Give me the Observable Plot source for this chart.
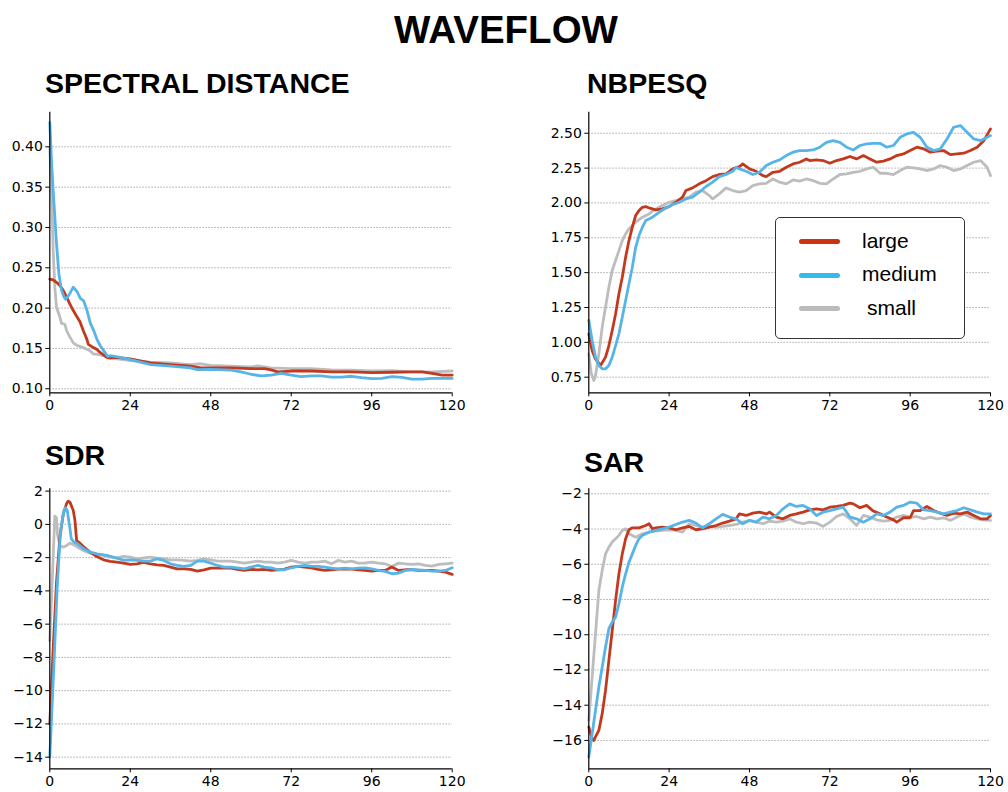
<!DOCTYPE html>
<html>
<head>
<meta charset="utf-8">
<script src="https://cdn.jsdelivr.net/npm/d3@7"></script>
<script src="https://cdn.jsdelivr.net/npm/@observablehq/plot@0.6"></script>
<style>
  html, body { margin: 0; padding: 0; background: #fff; }
  #root { position: relative; width: 1008px; height: 792px; overflow: hidden; background: #fff; }
  .ttl { position: absolute; font-family: "Liberation Sans", Arial, Helvetica, sans-serif; font-weight: bold; line-height: 1; white-space: nowrap; color: #000; }
  .panel { position: absolute; }
  .panel svg { overflow: visible; }
  #legend { position: absolute; left: 775px; top: 217px; width: 188px; height: 120px; border: 1px solid #333; border-radius: 5px; background: #fff; font-family: "Liberation Sans", Arial, Helvetica, sans-serif; font-size: 21px; }
  .sw { position: absolute; left: 23px; width: 41px; height: 5px; border-radius: 3px; }
  .lb { position: absolute; left: 86px; line-height: 1; white-space: pre; }
</style>
</head>
<body>
<div id="root"></div>
<script>
// ---------------- data ----------------
const seriesNames = ["large", "medium", "small"];
const epochTicks = [0, 24, 48, 72, 96, 120];

// SPECTRAL DISTANCE  [epoch, value]
const sdLarge = [[0,0.236],[1,0.235],[2,0.232],[3,0.228],[4,0.222],[5,0.214],[6,0.205],[7,0.197],[8,0.190],[9,0.183],[10,0.172],[11,0.162],[11.5,0.155],[13,0.151],[14,0.149],[15,0.145],[17,0.139],[18,0.138],[20,0.139],[24,0.137],[30,0.132],[36,0.130],[42,0.128],[45,0.126],[48,0.126],[54,0.126],[60,0.125],[64,0.125],[66,0.1235],[68,0.121],[72,0.122],[78,0.122],[84,0.121],[90,0.121],[96,0.120],[102,0.1205],[108,0.121],[111,0.121],[114,0.119],[117,0.117],[120,0.117]];
const sdMedium = [[0,0.430],[0.6,0.375],[1.2,0.333],[2,0.280],[2.7,0.243],[3.5,0.222],[4.2,0.214],[4.7,0.211],[5.7,0.216],[7,0.226],[8.2,0.220],[9.1,0.212],[10.1,0.209],[11.1,0.197],[12.1,0.181],[13.1,0.172],[14.1,0.161],[15.1,0.153],[16.1,0.147],[17.3,0.140],[18.1,0.141],[21,0.139],[24,0.136],[30,0.130],[36,0.128],[42,0.126],[44,0.1237],[48,0.124],[54,0.123],[57,0.121],[60,0.118],[63,0.116],[66,0.117],[69,0.119],[72,0.117],[75,0.115],[78,0.116],[81,0.116],[84,0.1145],[87,0.1145],[90,0.1155],[93,0.1138],[96,0.1125],[99,0.113],[102,0.115],[105,0.114],[108,0.112],[111,0.112],[114,0.1128],[117,0.113],[120,0.113]];
const sdSmall = [[0,0.400],[0.7,0.320],[1,0.272],[1.5,0.226],[2,0.201],[3,0.189],[3.5,0.181],[4.5,0.180],[5,0.172],[6,0.164],[7,0.157],[8,0.154],[10,0.151],[11,0.149],[12,0.147],[13,0.143],[14,0.143],[16,0.141],[18,0.139],[20,0.137],[22,0.136],[24,0.135],[30,0.133],[36,0.132],[42,0.130],[45,0.131],[48,0.129],[54,0.128],[60,0.127],[62,0.1285],[66,0.126],[72,0.125],[78,0.125],[84,0.1235],[90,0.123],[96,0.122],[102,0.1225],[108,0.121],[114,0.121],[120,0.122]];

// NBPESQ
const pqLarge = [[0,1.061],[1,0.94],[2,0.88],[3.5,0.834],[5,0.894],[6,0.977],[7,1.085],[8,1.204],[9,1.348],[10,1.467],[11,1.611],[12,1.73],[13,1.826],[14,1.91],[15,1.945],[16,1.969],[17,1.974],[18,1.964],[20,1.95],[22,1.957],[24,1.974],[26,2.005],[28,2.041],[29,2.089],[31,2.108],[33,2.137],[35,2.16],[37,2.189],[39,2.204],[41,2.208],[43,2.244],[45,2.261],[46,2.28],[48,2.244],[50,2.227],[52,2.196],[53,2.189],[55,2.22],[57,2.227],[59,2.256],[61,2.28],[63,2.292],[65,2.316],[66,2.304],[68,2.309],[70,2.304],[72,2.285],[74,2.304],[76,2.316],[78,2.333],[80,2.316],[82,2.34],[84,2.316],[86,2.292],[88,2.30],[90,2.316],[92,2.34],[94,2.352],[96,2.376],[98,2.40],[100,2.388],[102,2.364],[104,2.371],[106,2.376],[108,2.347],[110,2.352],[112,2.357],[114,2.376],[116,2.40],[118,2.447],[120,2.531]];
const pqMedium = [[0,1.157],[1,1.013],[2,0.894],[3,0.834],[4,0.81],[5,0.81],[6,0.834],[7,0.894],[8,0.977],[9,1.061],[10,1.18],[11,1.30],[12,1.42],[13,1.539],[14,1.682],[15,1.766],[16,1.826],[17,1.874],[19,1.898],[21,1.933],[23,1.964],[25,1.988],[27,2.005],[29,2.029],[31,2.041],[33,2.077],[35,2.118],[37,2.149],[39,2.189],[41,2.204],[43,2.227],[44,2.256],[45,2.244],[47,2.227],[49,2.204],[51,2.22],[53,2.268],[55,2.292],[57,2.309],[59,2.34],[61,2.364],[63,2.376],[65,2.376],[67,2.38],[69,2.40],[71,2.435],[73,2.447],[75,2.435],[77,2.40],[79,2.38],[81,2.412],[83,2.424],[85,2.428],[87,2.428],[89,2.40],[91,2.412],[93,2.471],[95,2.495],[97,2.507],[99,2.471],[101,2.40],[103,2.376],[105,2.388],[107,2.459],[109,2.543],[111,2.555],[113,2.507],[115,2.459],[117,2.447],[119,2.471],[120,2.483]];
const pqSmall = [[0,0.917],[0.7,0.78],[1.5,0.726],[2,0.76],[3,0.917],[4,1.109],[5,1.252],[6,1.396],[7,1.515],[8,1.587],[9,1.658],[10,1.73],[11,1.778],[12,1.814],[13,1.838],[14,1.862],[16,1.898],[18,1.921],[20,1.957],[22,1.981],[24,2.005],[26,2.017],[28,2.029],[30,2.041],[32,2.077],[34,2.089],[36,2.053],[37,2.029],[39,2.065],[41,2.108],[43,2.089],[45,2.077],[47,2.089],[49,2.125],[51,2.137],[53,2.141],[55,2.172],[57,2.149],[59,2.137],[61,2.165],[63,2.156],[65,2.172],[67,2.16],[69,2.141],[71,2.137],[73,2.172],[75,2.204],[77,2.208],[79,2.22],[81,2.227],[83,2.244],[85,2.256],[87,2.213],[89,2.213],[91,2.204],[93,2.232],[95,2.256],[97,2.251],[99,2.244],[101,2.232],[103,2.244],[105,2.268],[107,2.256],[109,2.232],[111,2.244],[113,2.268],[115,2.292],[117,2.304],[119,2.256],[120,2.196]];

// SDR
const sdrLarge = [[0,-12.0],[1,-7.5],[2,-3.5],[3,-0.8],[4,0.6],[5,1.25],[5.5,1.4],[6,1.34],[7,0.84],[7.5,0.24],[8,-0.97],[9,-1.13],[10,-1.33],[12,-1.67],[14,-1.93],[16,-2.13],[18,-2.23],[20,-2.27],[22,-2.33],[24,-2.41],[26,-2.37],[28,-2.29],[30,-2.37],[32,-2.43],[34,-2.47],[36,-2.57],[38,-2.67],[40,-2.67],[42,-2.71],[44,-2.81],[46,-2.73],[48,-2.63],[50,-2.63],[52,-2.61],[54,-2.63],[56,-2.71],[58,-2.77],[60,-2.71],[62,-2.73],[64,-2.71],[66,-2.77],[68,-2.73],[70,-2.69],[72,-2.57],[74,-2.53],[76,-2.57],[78,-2.61],[80,-2.71],[82,-2.77],[84,-2.73],[86,-2.69],[88,-2.67],[90,-2.69],[92,-2.73],[94,-2.77],[96,-2.81],[98,-2.77],[100,-2.77],[102,-2.57],[104,-2.77],[106,-2.73],[108,-2.73],[110,-2.77],[112,-2.77],[114,-2.77],[116,-2.81],[118,-2.87],[120,-3.01]];
const sdrMedium = [[0,-14.0],[1.2,-8.6],[2.2,-3.8],[3.2,-0.36],[4.2,0.84],[4.7,1.0],[5.2,0.84],[6,-0.24],[6.4,-0.86],[7.2,-1.06],[8.2,-1.16],[10.1,-1.47],[12.1,-1.67],[14.1,-1.77],[17,-1.87],[20,-2.03],[22,-2.15],[24,-2.13],[26,-2.17],[28,-2.21],[30,-2.21],[32,-2.07],[34,-2.17],[36,-2.37],[38,-2.47],[40,-2.53],[42,-2.47],[44,-2.21],[46,-2.21],[48,-2.33],[50,-2.47],[52,-2.57],[54,-2.57],[56,-2.61],[58,-2.67],[60,-2.57],[62,-2.47],[64,-2.57],[66,-2.61],[68,-2.73],[70,-2.73],[72,-2.61],[74,-2.53],[76,-2.47],[78,-2.51],[80,-2.53],[82,-2.57],[84,-2.63],[86,-2.67],[88,-2.63],[90,-2.67],[92,-2.63],[94,-2.61],[96,-2.67],[98,-2.77],[100,-2.83],[102,-2.97],[104,-2.93],[106,-2.77],[108,-2.71],[110,-2.73],[112,-2.77],[114,-2.81],[116,-2.81],[118,-2.77],[120,-2.61]];
const sdrSmall = [[0,-7.0],[0.8,-3.0],[1.5,0.5],[2,0.4],[2.3,-0.6],[3,-1.27],[4,-1.37],[5,-1.27],[6,-1.13],[7,-1.21],[8,-1.33],[10,-1.57],[12,-1.73],[14,-1.81],[16,-1.87],[18,-1.97],[20,-2.01],[22,-1.93],[24,-1.97],[26,-2.07],[28,-2.01],[30,-1.97],[32,-2.03],[34,-2.07],[36,-2.13],[38,-2.13],[40,-2.17],[42,-2.21],[44,-2.17],[46,-2.07],[48,-2.13],[50,-2.21],[52,-2.21],[54,-2.21],[56,-2.27],[58,-2.33],[60,-2.27],[62,-2.21],[64,-2.27],[66,-2.27],[68,-2.33],[70,-2.27],[72,-2.17],[74,-2.27],[76,-2.33],[78,-2.27],[80,-2.27],[82,-2.21],[84,-2.37],[86,-2.17],[88,-2.27],[90,-2.21],[92,-2.33],[94,-2.33],[96,-2.27],[98,-2.33],[100,-2.37],[102,-2.53],[104,-2.33],[106,-2.37],[108,-2.41],[110,-2.37],[112,-2.47],[114,-2.51],[116,-2.41],[118,-2.37],[120,-2.33]];

// SAR
const sarLarge = [[0,-15.24],[1,-15.9],[1.5,-16.0],[2,-15.8],[3,-15.43],[4,-14.49],[5,-13.16],[6,-11.46],[7,-9.76],[8,-8.05],[9,-6.54],[10,-5.41],[11,-4.55],[12,-4.04],[13,-3.93],[15,-3.93],[17,-3.80],[18,-3.70],[19,-3.99],[20,-3.93],[22,-3.89],[24,-3.93],[26,-4.04],[28,-3.93],[30,-3.85],[32,-4.04],[34,-3.99],[36,-3.89],[38,-3.80],[40,-3.66],[42,-3.55],[44,-3.42],[45,-3.14],[47,-3.23],[49,-3.10],[51,-3.04],[53,-3.14],[54,-3.04],[56,-3.32],[58,-3.42],[60,-3.23],[62,-3.14],[64,-3.04],[66,-2.91],[68,-2.85],[70,-2.91],[72,-2.76],[74,-2.72],[76,-2.66],[78,-2.53],[79,-2.57],[81,-2.79],[83,-2.66],[85,-2.98],[87,-3.14],[89,-3.32],[91,-3.48],[92,-3.61],[94,-3.36],[96,-3.36],[97,-2.95],[99,-2.95],[101,-2.72],[103,-2.95],[105,-3.10],[107,-3.23],[109,-3.10],[111,-3.14],[113,-3.04],[115,-3.23],[117,-3.42],[119,-3.42],[120,-3.23]];
const sarMedium = [[0,-16.94],[1,-15.62],[2,-14.30],[3,-12.97],[4,-11.84],[5,-10.70],[6,-9.66],[7,-9.28],[8,-9.00],[9,-8.24],[10,-7.30],[11,-6.54],[12,-5.88],[13,-5.41],[14,-4.93],[15,-4.55],[16,-4.36],[17,-4.27],[18,-4.18],[20,-4.08],[22,-3.99],[24,-3.89],[26,-3.74],[28,-3.61],[30,-3.51],[32,-3.66],[34,-3.93],[36,-3.70],[38,-3.42],[40,-3.17],[42,-3.32],[44,-3.42],[46,-3.70],[48,-3.51],[50,-3.61],[52,-3.32],[54,-3.42],[56,-3.23],[58,-2.85],[60,-2.57],[62,-2.72],[64,-2.66],[66,-2.85],[68,-3.23],[70,-3.04],[72,-2.95],[74,-2.85],[76,-2.76],[78,-3.32],[80,-3.42],[82,-3.61],[84,-3.42],[86,-3.14],[88,-3.23],[90,-3.04],[92,-2.76],[94,-2.66],[96,-2.47],[98,-2.53],[100,-2.91],[102,-2.95],[104,-3.04],[106,-3.14],[108,-3.04],[110,-2.95],[112,-2.79],[114,-2.91],[116,-3.04],[118,-3.14],[120,-3.14]];
const sarSmall = [[0,-14.86],[1,-12.40],[2,-9.95],[3,-7.49],[4,-6.35],[5,-5.41],[6,-5.03],[7,-4.74],[8,-4.55],[9,-4.36],[10,-4.08],[11,-3.99],[12,-4.27],[14,-4.46],[16,-4.27],[18,-4.18],[20,-4.12],[22,-4.08],[24,-4.04],[26,-4.08],[28,-4.18],[30,-3.70],[32,-3.80],[34,-3.89],[36,-3.85],[38,-3.89],[40,-3.85],[42,-3.80],[44,-3.74],[46,-3.61],[48,-3.51],[50,-3.61],[52,-3.70],[54,-3.55],[56,-3.61],[58,-3.55],[60,-3.42],[62,-3.61],[64,-3.70],[66,-3.61],[68,-3.66],[70,-3.85],[72,-3.61],[74,-3.29],[76,-3.14],[78,-3.42],[80,-3.80],[82,-3.23],[84,-3.32],[86,-3.48],[88,-3.55],[90,-3.51],[92,-3.32],[94,-3.23],[96,-3.32],[98,-3.29],[100,-3.42],[102,-3.32],[104,-3.42],[106,-3.36],[108,-3.51],[110,-3.32],[112,-3.14],[114,-3.32],[116,-3.42],[118,-3.48],[120,-3.51]];

const sdTicks = [0.10, 0.15, 0.20, 0.25, 0.30, 0.35, 0.40];
const pqTicks = [0.75, 1.00, 1.25, 1.50, 1.75, 2.00, 2.25, 2.50];
const sdrTicks = [-14, -12, -10, -8, -6, -4, -2, 0, 2];
const sarTicks = [-16, -14, -12, -10, -8, -6, -4, -2];

const titles = ["WAVEFLOW", "SPECTRAL DISTANCE", "NBPESQ", "SDR", "SAR"];

// ---------------- styling ----------------
const lineColors = {large: "#c3391d", medium: "#56b4e9", small: "#bdbdbd"};
const legendColors = {large: "#cc3311", medium: "#33bbee", small: "#bbbbbb"};

const root = document.getElementById("root");

function addTitle(text, left, top, size, center) {
  const d = document.createElement("div");
  d.className = "ttl";
  d.textContent = text;
  d.style.fontSize = size + "px";
  d.style.top = top + "px";
  if (center) { d.style.left = "0px"; d.style.width = (2 * left) + "px"; d.style.textAlign = "center"; }
  else d.style.left = left + "px";
  root.appendChild(d);
}

function panel(cfg) {
  const {left, top, width, height, mL, mR, mT, mB, yDomain, yTicks, fmt, large, medium, small} = cfg;
  const lineOpts = (name) => ({x: d => d[0], y: d => d[1], stroke: lineColors[name], strokeWidth: 2.8, strokeLinejoin: "round", strokeLinecap: "round"});
  const axisText = {fontSize: 14, fontFamily: "DejaVu Sans"};
  const svg = Plot.plot({
    width, height,
    marginLeft: mL, marginRight: mR, marginTop: mT, marginBottom: mB,
    style: {fontFamily: "'DejaVu Sans', sans-serif", fontSize: "14px", color: "#000", background: "transparent", overflow: "visible"},
    x: {domain: [0, 120]},
    y: {domain: yDomain},
    marks: [
      Plot.gridY(yTicks, {stroke: "#9a9a9a", strokeOpacity: 1, strokeWidth: 0.8, strokeDasharray: "1.6,1.4"}),
      Plot.line(small, lineOpts("small")),
      Plot.line(large, lineOpts("large")),
      Plot.line(medium, lineOpts("medium")),
      Plot.ruleX([0], {stroke: "#000", strokeWidth: 1.2}),
      Plot.ruleY([yDomain[0]], {stroke: "#000", strokeWidth: 1.2}),
      Plot.axisY({ticks: yTicks, tickFormat: d3.format(fmt), tickSize: 4, tickPadding: 3, label: null, stroke: "#000", fill: "#000", ...axisText}),
      Plot.axisX({ticks: epochTicks, tickFormat: d3.format("d"), tickSize: 4, tickPadding: 3, label: null, stroke: "#000", fill: "#000", ...axisText})
    ]
  });
  const wrap = document.createElement("div");
  wrap.className = "panel";
  wrap.style.left = left + "px";
  wrap.style.top = top + "px";
  wrap.appendChild(svg);
  root.appendChild(wrap);
}

// titles
addTitle(titles[0], 506, 11, 38.5, true);
addTitle(titles[1], 45, 69, 28.5, false);
addTitle(titles[2], 587, 69, 28.5, false);
addTitle(titles[3], 45, 441, 28.5, false);
addTitle(titles[4], 584, 448, 28.5, false);

// panels
panel({left: 0, top: 100, width: 470, height: 325, mL: 49.3, mR: 18.3, mT: 11.7, mB: 32.7,
  yDomain: [0.0950, 0.4429], yTicks: sdTicks, fmt: ".2f", large: sdLarge, medium: sdMedium, small: sdSmall});
panel({left: 530, top: 100, width: 478, height: 325, mL: 58.3, mR: 18, mT: 11.7, mB: 32.7,
  yDomain: [0.638, 2.651], yTicks: pqTicks, fmt: ".2f", large: pqLarge, medium: pqMedium, small: pqSmall});
panel({left: 0, top: 470, width: 470, height: 322, mL: 49.3, mR: 18.3, mT: 18.3, mB: 23.7,
  yDomain: [-14.70, 2.14], yTicks: sdrTicks, fmt: "d", large: sdrLarge, medium: sdrMedium, small: sdrSmall});
panel({left: 530, top: 470, width: 478, height: 322, mL: 58.3, mR: 18, mT: 18.3, mB: 23.7,
  yDomain: [-17.61, -1.716], yTicks: sarTicks, fmt: "d", large: sarLarge, medium: sarMedium, small: sarSmall});

// legend
const lg = document.createElement("div");
lg.id = "legend";
const rowsY = [23.5, 57, 90.5];
seriesNames.forEach((name, i) => {
  const sw = document.createElement("div");
  sw.className = "sw";
  sw.style.background = legendColors[name];
  sw.style.top = (rowsY[i] - 2.5) + "px";
  lg.appendChild(sw);
  const lb = document.createElement("div");
  lb.className = "lb";
  lb.textContent = name;
  lb.style.top = (rowsY[i] - 12) + "px";
  lb.style.left = (name === "small" ? 91 : 86) + "px";
  lg.appendChild(lb);
});
root.appendChild(lg);
</script>
</body>
</html>
